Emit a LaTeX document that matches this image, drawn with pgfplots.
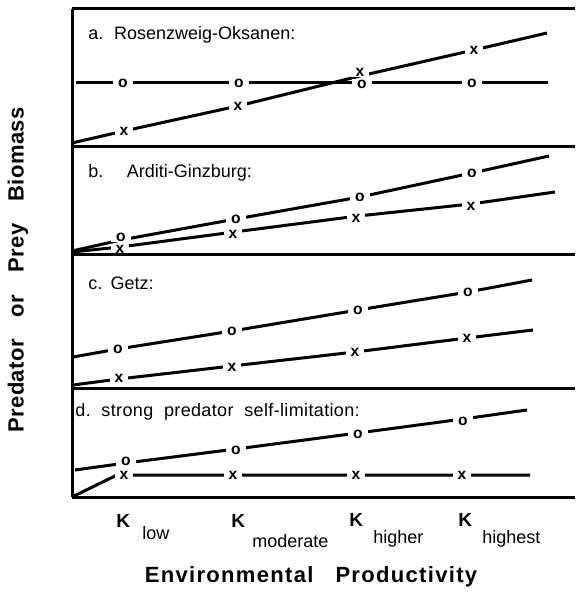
\documentclass[border=0pt]{standalone}
\usepackage{fontspec}
\setmainfont{Liberation Sans}
\usepackage{pgfplots}
\pgfplotsset{compat=1.18}
\pgfplotsset{
  panel/.style={scale only axis, width=251.5pt, xmin=0, xmax=503, ymin=0,
    axis x line=box, axis y line=left, axis line style={-, line width=1.5pt},
    xtick=\empty, ytick=\empty, clip=false, anchor=south west},
  ln/.style={black, line width=1.5pt, mark=none},
  om/.style={only marks, mark=text, text mark={o}, text mark as node=true,
    text mark style={font=\fontsize{7.8}{8}\selectfont\bfseries, fill=white, inner xsep=2.4pt, inner ysep=0.3pt, text=black}},
  xm/.style={only marks, mark=text, text mark={x}, text mark as node=true,
    text mark style={font=\fontsize{7.8}{8}\selectfont\bfseries, fill=white, inner xsep=2.4pt, inner ysep=0.3pt, text=black}},
}
\tikzset{lab/.style={anchor=base west, font=\fontsize{9}{10}\selectfont, inner sep=0pt}}
\begin{document}
\begin{tikzpicture}
\path[use as bounding box] (0,0) rectangle (287.5pt,297pt);
% ---- panel a
\begin{axis}[panel, at={(36pt,223.5pt)}, height=69pt, ymax=138]
\addplot[ln] coordinates {(4,64) (51,64) (167,64) (290,64) (400,64) (476,64)};
\addplot[ln] coordinates {(0,4) (52,16) (166,41) (288,71) (402,97) (475,114)};
\addplot[om] coordinates {(51,64) (167,64) (290,63) (400,64)};
\addplot[xm] coordinates {(52,16) (166,41) (288,75) (402,97)};
\node[lab] at (axis cs:16,107) {a.\hspace{0.6em}Rosenzweig-Oksanen:};
\end{axis}
% ---- panel b
\begin{axis}[panel, at={(36pt,169.5pt)}, height=54pt, ymax=108]
\addplot[ln] coordinates {(0,4) (49,15) (164,36) (288,58) (400,82) (477,99)};
\addplot[ln] coordinates {(0,3) (48,8) (162,23) (286,39) (399,51) (483,63)};
\addplot[om] coordinates {(49,18) (164,36) (288,58) (400,82)};
\addplot[xm] coordinates {(48,6) (161,21) (284,37) (399,49)};
\node[lab] at (axis cs:16,77) {b.\hspace{1.3em}Arditi-Ginzburg:};
\end{axis}
% ---- panel c
\begin{axis}[panel, at={(36pt,102.5pt)}, height=67pt, ymax=134]
\addplot[ln] coordinates {(1,32) (46,40) (160,58) (286,79) (396,97) (460,109)};
\addplot[ln] coordinates {(1,4) (47,10) (160,23) (283,37) (395,51) (461,59)};
\addplot[om] coordinates {(46,40) (160,58) (286,79) (396,97)};
\addplot[xm] coordinates {(47,11) (160,22) (283,37) (395,51)};
\node[lab] at (axis cs:16,99) {c.\hspace{0.45em}Getz:};
\end{axis}
% ---- panel d
\begin{axis}[panel, at={(36pt,48.5pt)}, height=54pt, ymax=108]
\addplot[ln] coordinates {(3,27) (54,34) (164,48) (286,64) (391,78) (455,87)};
\addplot[ln] coordinates {(0,0) (45,22) (161,22) (284,22) (390,22) (458,22)};
\addplot[om] coordinates {(54,36) (164,47) (286,63) (391,76)};
\addplot[xm] coordinates {(52,22) (161,22) (284,22) (390,22)};
\node[lab, font=\fontsize{9}{10}\selectfont\addfontfeature{LetterSpace=2}] at (axis cs:3,81) {d.\ \ strong\ \ predator\ \ self-limitation:};
% x labels
\node[anchor=base west, inner sep=0pt, font=\fontsize{9.5}{10}\selectfont\bfseries] at (axis cs:44,-30) {K};
\node[anchor=base west, inner sep=0pt, font=\fontsize{9}{10}\selectfont] at (axis cs:70,-42) {low};
\node[anchor=base west, inner sep=0pt, font=\fontsize{9.5}{10}\selectfont\bfseries] at (axis cs:159,-30) {K};
\node[anchor=base west, inner sep=0pt, font=\fontsize{9}{10}\selectfont] at (axis cs:180,-50) {moderate};
\node[anchor=base west, inner sep=0pt, font=\fontsize{9.5}{10}\selectfont\bfseries] at (axis cs:277,-29) {K};
\node[anchor=base west, inner sep=0pt, font=\fontsize{9}{10}\selectfont] at (axis cs:301,-46) {higher};
\node[anchor=base west, inner sep=0pt, font=\fontsize{9.5}{10}\selectfont\bfseries] at (axis cs:386,-29) {K};
\node[anchor=base west, inner sep=0pt, font=\fontsize{9}{10}\selectfont] at (axis cs:410,-46) {highest};
\node[anchor=base, inner sep=0pt, font=\fontsize{11}{12}\selectfont\bfseries\addfontfeature{LetterSpace=6}] at (axis cs:239,-85) {Environmental\hspace{1em}Productivity};
\end{axis}
\node[rotate=90, inner sep=0pt, font=\fontsize{11}{12}\selectfont\bfseries\addfontfeature{LetterSpace=2}] at (9pt,162pt) {Predator\hspace{1em}or\hspace{1em}Prey\hspace{1em}Biomass};
\end{tikzpicture}
\end{document}
